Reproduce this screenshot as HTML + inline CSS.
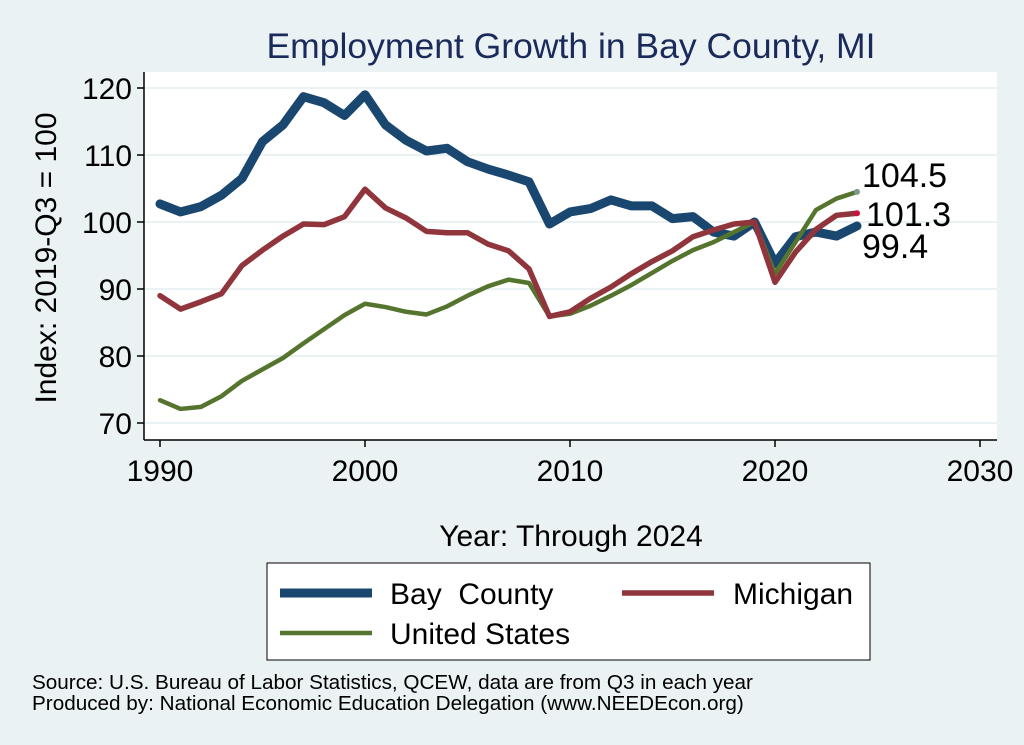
<!DOCTYPE html>
<html><head><meta charset="utf-8"><style>
body{margin:0;background:#eaf2f3;}
svg{display:block;font-family:"Liberation Sans",sans-serif;}
</style></head><body>
<svg id="s" width="1024" height="745" xmlns="http://www.w3.org/2000/svg">
<rect width="1024" height="745" fill="#eaf2f3"/>
<rect x="144" y="72" width="853" height="368" fill="#fff"/>
<g id="grid" stroke="#eaf2f3" stroke-width="2"></g>
<line x1="144" y1="72" x2="144" y2="440" stroke="#000" stroke-width="1.5"/>
<line x1="144" y1="440" x2="997" y2="440" stroke="#000" stroke-width="1.5"/>
<g id="ticks"></g>
<text x="571" y="58" font-size="35.5" fill="#1a2a5a" text-anchor="middle">Employment Growth in Bay County, MI</text>
<text transform="translate(56,258) rotate(-90)" font-size="30" text-anchor="middle">Index: 2019-Q3 = 100</text>
<text x="571" y="546" font-size="30" text-anchor="middle">Year: Through 2024</text>
<g id="lines" fill="none" stroke-linejoin="round" stroke-linecap="round"></g>
<text x="862" y="187" font-size="34">104.5</text>
<text x="866" y="226" font-size="34">101.3</text>
<text x="862" y="258" font-size="34">99.4</text>
<rect x="267" y="563" width="603" height="97" fill="#fff" stroke="#000" stroke-width="1"/>
<line x1="280" y1="593" x2="372" y2="593" stroke="#1a476f" stroke-width="9"/>
<text x="390" y="604" font-size="30" xml:space="preserve">Bay  County</text>
<line x1="622" y1="593" x2="714" y2="593" stroke="#90353b" stroke-width="5.5"/>
<text x="733" y="604" font-size="30">Michigan</text>
<line x1="280" y1="633" x2="372" y2="633" stroke="#55752f" stroke-width="4.5"/>
<text x="390" y="644" font-size="30">United States</text>
<text x="32" y="689" font-size="20.7">Source: U.S. Bureau of Labor Statistics, QCEW, data are from Q3 in each year</text>
<text x="32" y="710" font-size="20.7">Produced by: National Economic Education Delegation (www.NEEDEcon.org)</text>
</svg>
<script>
const NS="http://www.w3.org/2000/svg";
const X=y=>160+(y-1990)*20.5, Y=v=>88+(120-v)*6.7;
function el(t,a,p){const e=document.createElementNS(NS,t);for(const k in a)e.setAttribute(k,a[k]);document.getElementById(p).appendChild(e);return e;}
for(let v=70;v<=120;v+=10){el('line',{x1:145,x2:997,y1:Y(v),y2:Y(v)},'grid');
el('line',{x1:137,x2:144,y1:Y(v),y2:Y(v),stroke:'#000','stroke-width':1.5},'ticks');
const t=el('text',{x:132,y:Y(v)+11,'font-size':30,'text-anchor':'end'},'ticks');t.textContent=v;}
for(let y=1990;y<=2030;y+=10){el('line',{x1:X(y),x2:X(y),y1:440,y2:447,stroke:'#000','stroke-width':1.5},'ticks');
const t=el('text',{x:X(y),y:481,'font-size':30,'text-anchor':'middle'},'ticks');t.textContent=y;}
const us=[73.4,72.1,72.4,74,76.3,78,79.7,81.9,84,86.1,87.8,87.3,86.6,86.2,87.4,89,90.4,91.4,90.9,85.9,86.3,87.5,89,90.6,92.4,94.2,95.8,97,98.5,100,92.3,97,101.8,103.5,104.5];
const mi=[89,87,88.1,89.3,93.5,95.8,97.9,99.7,99.6,100.8,104.9,102.1,100.6,98.6,98.4,98.4,96.7,95.7,93,85.9,86.6,88.6,90.3,92.3,94.1,95.7,97.8,98.8,99.7,100,91,95.5,98.9,101,101.3];
const bay=[102.7,101.5,102.3,104,106.5,112,114.5,118.7,117.8,115.9,119,114.5,112.2,110.6,111,109,107.9,107,106,99.7,101.5,102,103.3,102.4,102.4,100.5,100.8,98.5,97.9,100,93.8,97.8,98.5,97.9,99.4];
function pl(d,c,w){el('polyline',{points:d.map((v,i)=>X(1990+i)+','+Y(v)).join(' '),stroke:c,'stroke-width':w},'lines');}
pl(bay,'#1a476f',9);pl(us,'#55752f',4.5);pl(mi,'#90353b',5.5);
el('circle',{cx:X(2024),cy:Y(104.5),r:3,fill:'#7a9a8a'},'lines');
el('circle',{cx:X(2024),cy:Y(101.3),r:3,fill:'#d0103a'},'lines');
</script>
</body></html>
